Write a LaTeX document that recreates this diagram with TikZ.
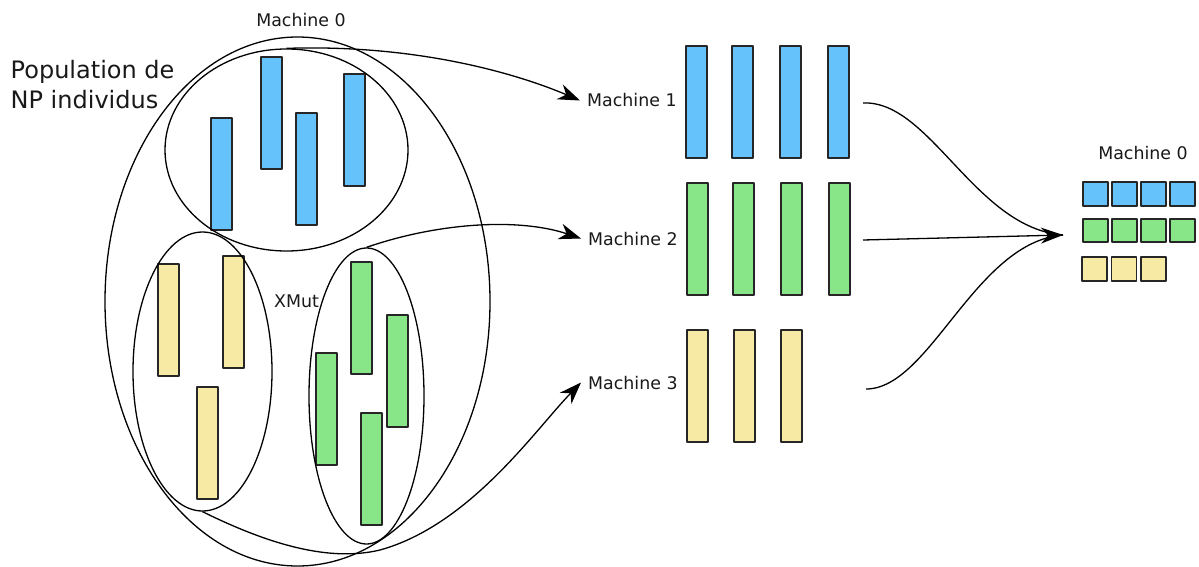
\documentclass[tikz,border=0pt]{standalone}
\usepackage{fontspec}
\setmainfont{DejaVu Sans}
\usepackage{tikz}
\usetikzlibrary{arrows.meta, shapes.geometric}
\definecolor{indblue}{HTML}{66C2FA}
\definecolor{indgreen}{HTML}{88E688}
\definecolor{indyellow}{HTML}{F6EAA4}

\begin{document}
\begin{tikzpicture}[x=1pt, y=-1pt, line join=round,
    gene/.style={draw=black!85, line width=1.5pt},
    grp/.style={draw, ellipse, line width=1.3pt, inner sep=0pt},
    lbl/.style={font=\fontsize{17.4}{20}\selectfont, text=black!90, inner sep=0pt},
    mach/.style={lbl, inner xsep=7pt, anchor=base west},
    link/.style={line width=1.3pt},
    flow/.style={link, -{Stealth[length=22pt, width=16pt, inset=7pt]}}]
    \useasboundingbox (0,0) rectangle (1199,567);

    % Individuals of the population (drawn first, behind the groups)
    \foreach \x/\y in {211/118, 261/57, 296/113, 344/74}
        \draw[gene, fill=indblue] (\x,\y) rectangle ++(21,112);
    \foreach \x/\y in {158/264, 223/256, 197/387}
        \draw[gene, fill=indyellow] (\x,\y) rectangle ++(21,112);
    \foreach \x/\y in {351/262, 387/315, 316/353, 361/413}
        \draw[gene, fill=indgreen] (\x,\y) rectangle ++(21,112);

    % Groups
    \node[grp, minimum width=385pt, minimum height=529pt] (pop) at (297.5,301.5) {};
    \node[grp, minimum width=243pt, minimum height=202pt] (blueset) at (286.5,150) {};
    \node[grp, minimum width=139pt, minimum height=279pt] (yellowset) at (202.5,371.5) {};
    \node[grp, minimum width=115pt, minimum height=296pt] (greenset) at (366.5,396) {};

    % Labels
    \node[lbl, anchor=north west, align=left, font=\fontsize{24}{30}\selectfont]
        (poplbl) at (10.5,60) {Population de\\NP individus};
    \node[lbl, anchor=base] (m0) at (301,27) {Machine 0};
    \node[lbl, anchor=base west] (xmut) at (274,307) {XMut};
    \node[mach] (m1) at (580,107) {Machine 1};
    \node[mach] (m2) at (581,245) {Machine 2};
    \node[mach] (m3) at (581,389) {Machine 3};
    \node[lbl, anchor=base] (m0r) at (1143,159) {Machine 0};

    % Individuals sent to each machine
    \foreach \x in {686, 732, 780, 828}
        \draw[gene, fill=indblue] (\x,46) rectangle ++(21,112);
    \foreach \x in {687, 733, 781, 829}
        \draw[gene, fill=indgreen] (\x,183) rectangle ++(21,112);
    \foreach \x in {687, 734, 781}
        \draw[gene, fill=indyellow] (\x,330) rectangle ++(21,112);

    % Gathered results
    \foreach \i in {0,...,3} {
        \draw[gene, line width=1.3pt, fill=indblue] ({1083+29*\i},182) rectangle ++(25,24);
        \draw[gene, line width=1.3pt, fill=indgreen] ({1083+29*\i},219) rectangle ++(25,23);
    }
    \foreach \i in {0,...,2}
        \draw[gene, line width=1.3pt, fill=indyellow] ({1082+29.5*\i},257) rectangle ++(25,24);

    % Dispatch
    \draw[flow] (blueset.north) .. controls (420,44) and (520,75) .. (m1.west);
    \draw[flow] (greenset.north) .. controls (440,222) and (520,218) .. (m2.west);
    \draw[flow] (yellowset.south) .. controls (270,545) and (330,562) .. (380,550)
        .. controls (470,525) and (535,430) .. (m3.west);

    % Gather
    \coordinate (out1) at (863,103);
    \coordinate (out2) at (863,240);
    \coordinate (out3) at (866,389);
    \coordinate (merge) at (1063,235);
    \draw[link] (out1) .. controls (930,100) and (975,228) .. (merge);
    \draw[link] (out3) .. controls (930,389) and (975,242) .. (merge);
    \draw[flow] (out2) -- (merge);
\end{tikzpicture}
\end{document}
